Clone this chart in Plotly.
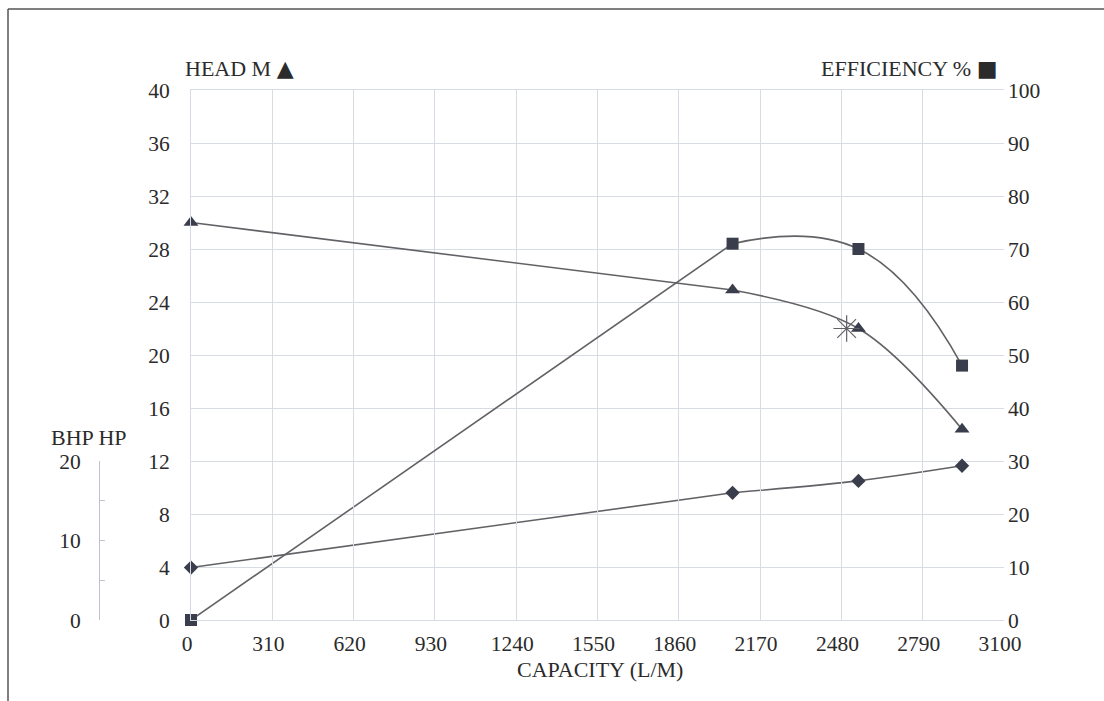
import plotly.graph_objects as go

# Pump performance data
capacity_ticks = [0, 310, 620, 930, 1240, 1550, 1860, 2170, 2480, 2790, 3100]

head_q = [0, 2065, 2545, 2940]
head_m = [30.0, 24.9, 22.0, 14.4]

eff_q = [0, 2065, 2545, 2940]
eff_pct = [0.0, 71.0, 70.0, 48.0]

bhp_q = [0, 2065, 2545, 2940]
bhp_hp = [6.6, 16.0, 17.5, 19.4]

bep_q = [2500]
bep_head = [22.0]

bhp_tickvals = [0, 5, 10, 15, 20]
bhp_ticktext = ["0", "", "10", "", "20"]

BHP_MAX = 20
BHP_SPAN = 0.3  # BHP scale occupies the lower 30 % of the plot height

FONT = "Liberation Serif"
TXT = "#2b2b2b"
GRID = "#d7dbe4"
LINE = "#626266"
MARK = "#3a3d4b"
BHP_AX = "#bfc3cc"

# pixel helpers for layout placement (paper spans x 40..1004, y 90..620)
def px(x):
    return (x - 40) / 964.0

def py(y):
    return (620 - y) / 530.0

fig = go.Figure()


def add_curve(q, v, axis, symbol, size, smoothing):
    # straight run from shut-off to the first duty point, smooth curve after
    fig.add_trace(go.Scatter(
        x=q[:2], y=v[:2], yaxis=axis, mode="lines",
        line=dict(color=LINE, width=1.6), showlegend=False,
        hoverinfo="skip"))
    fig.add_trace(go.Scatter(
        x=q[1:], y=v[1:], yaxis=axis, mode="lines",
        line=dict(color=LINE, width=1.6, shape="spline", smoothing=smoothing),
        showlegend=False, hoverinfo="skip"))
    fig.add_trace(go.Scatter(
        x=q, y=v, yaxis=axis, mode="markers",
        marker=dict(symbol=symbol, size=size, color=MARK),
        cliponaxis=False, showlegend=False))


add_curve(eff_q, eff_pct, "y2", "square", 12, 1.3)
add_curve(head_q, head_m, "y", "triangle-up", 13, 1.0)
add_curve(bhp_q, bhp_hp, "y4", "diamond", 11, 0.8)

fig.add_trace(go.Scatter(
    x=bep_q, y=bep_head, yaxis="y", mode="markers",
    marker=dict(symbol="asterisk-open", size=22, color=LINE,
                line=dict(color=LINE, width=1.2)),
    cliponaxis=False, showlegend=False))

# carrier for the short BHP scale drawn at the far left
fig.add_trace(go.Scatter(x=[], y=[], yaxis="y3", mode="markers",
                         showlegend=False))

tick_font = dict(family=FONT, size=21.5, color=TXT)

fig.update_layout(
    width=1104, height=701,
    margin=dict(l=40, r=100, t=90, b=81),
    paper_bgcolor="white", plot_bgcolor="rgba(0,0,0,0)",
    font=dict(family=FONT, color=TXT),
    xaxis=dict(
        domain=[151 / 964.0, 1], range=[0, 3100],
        tickmode="array", tickvals=capacity_ticks,
        ticktext=[str(v) for v in capacity_ticks],
        showgrid=True, gridcolor=GRID, gridwidth=1, zeroline=False,
        showline=True, mirror=True, linecolor=GRID, linewidth=1,
        ticks="", tickfont=tick_font, ticklabelstandoff=4,
        ticklabelshift=-4, anchor="y"),
    yaxis=dict(
        range=[0, 40], tickmode="linear", tick0=0, dtick=4,
        showgrid=True, gridcolor=GRID, gridwidth=1, zeroline=False,
        showline=True, linecolor=GRID, ticks="", tickfont=tick_font,
        ticklabelstandoff=16, anchor="x", side="left"),
    yaxis2=dict(
        range=[0, 100], tickmode="linear", tick0=0, dtick=10,
        overlaying="y", side="right", anchor="x", showgrid=False,
        zeroline=False, ticks="", tickfont=tick_font, ticklabelstandoff=3),
    yaxis3=dict(
        domain=[0, BHP_SPAN], range=[0, BHP_MAX], tickmode="array",
        tickvals=bhp_tickvals, ticktext=bhp_ticktext,
        anchor="free", position=px(99), side="left",
        showgrid=False, zeroline=False, showline=True, linecolor=BHP_AX,
        linewidth=1, ticks="inside", ticklen=5, tickwidth=1,
        tickcolor=BHP_AX, tickfont=tick_font, ticklabelstandoff=14),
    yaxis4=dict(
        range=[0, BHP_MAX / BHP_SPAN], overlaying="y", anchor="x",
        visible=False),
    annotations=[
        dict(text="HEAD M <span style='font-family:DejaVu Sans'>▲</span>",
             xref="paper", yref="paper", x=px(183), y=py(69),
             xanchor="left", yanchor="middle", showarrow=False,
             font=dict(family=FONT, size=22, color=TXT)),
        dict(text="EFFICIENCY % <span style='font-family:DejaVu Sans'>■</span>",
             xref="paper", yref="paper", x=px(999), y=py(69),
             xanchor="right", yanchor="middle", showarrow=False,
             font=dict(family=FONT, size=22, color=TXT)),
        dict(text="BHP HP", xref="paper", yref="paper", x=px(49), y=py(437),
             xanchor="left", yanchor="middle", showarrow=False,
             font=dict(family=FONT, size=22, color=TXT)),
        dict(text="CAPACITY (L/M)", xref="paper", yref="paper",
             x=px(600), y=py(669), xanchor="center", yanchor="middle",
             showarrow=False, font=dict(family=FONT, size=22, color=TXT)),
    ],
    shapes=[
        dict(type="line", xref="paper", yref="paper",
             x0=px(8), x1=px(1104), y0=py(9), y1=py(9),
             line=dict(color="#555555", width=1.5)),
        dict(type="line", xref="paper", yref="paper",
             x0=px(8), x1=px(8), y0=py(9), y1=py(701),
             line=dict(color="#555555", width=1.5)),
    ],
)

fig.write_html("out.html")
